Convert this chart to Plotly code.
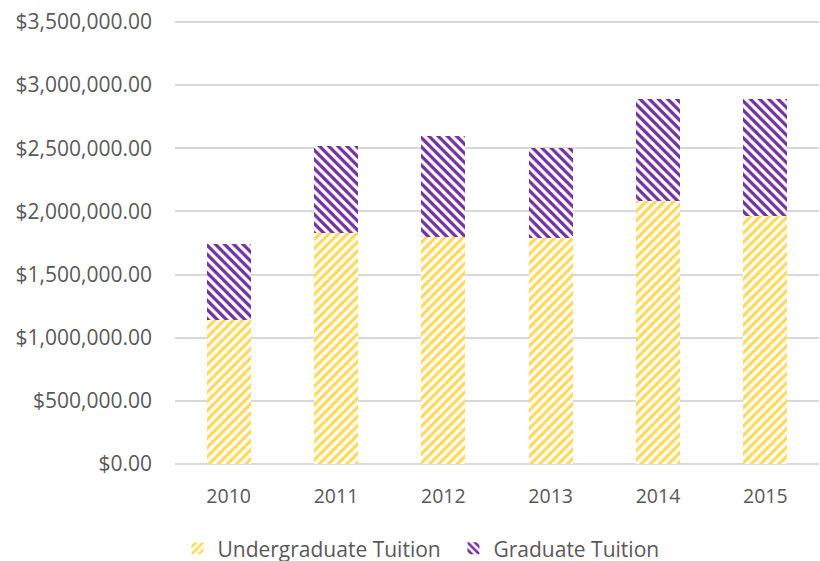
import plotly.graph_objects as go

years = ["2010", "2011", "2012", "2013", "2014", "2015"]
undergrad = [1140000, 1830000, 1800000, 1790000, 2080000, 1960000]
graduate = [600000, 690000, 800000, 710000, 810000, 930000]
y_ticks = [0, 500000, 1000000, 1500000, 2000000, 2500000, 3000000, 3500000]

fig = go.Figure()
fig.add_trace(go.Bar(
    x=years, y=undergrad, name="Undergraduate Tuition",
    marker=dict(color="#FFFFFF", line=dict(width=0),
                pattern=dict(shape="/", fgcolor="#FFD95A", bgcolor="#FFFFFF",
                             fgopacity=1, size=6.5, solidity=0.5, fillmode="replace")),
))
fig.add_trace(go.Bar(
    x=years, y=graduate, name="Graduate Tuition",
    marker=dict(color="#FFFFFF", line=dict(width=0),
                pattern=dict(shape="\\", fgcolor="#7030A0", bgcolor="#FFFFFF",
                             fgopacity=1, size=6.5, solidity=0.5, fillmode="replace")),
))

fig.update_layout(
    barmode="stack",
    bargap=0.59,
    width=820, height=561,
    margin=dict(l=175, r=1, t=20, b=97, autoexpand=False),
    paper_bgcolor="white", plot_bgcolor="white",
    font=dict(family="Open Sans, Noto Sans, sans-serif", size=20, color="#595959"),
    showlegend=True,
    legend=dict(orientation="h", xref="container", x=0.553, xanchor="center",
                yref="container", y=0.022, yanchor="middle",
                font=dict(size=21, color="#595959"), itemwidth=30,
                entrywidth=231, entrywidthmode="pixels",
                traceorder="normal"),
    xaxis=dict(showgrid=False, showline=False, ticks="", tickfont=dict(size=19.5),
               ticklabelstandoff=18),
    yaxis=dict(range=[0, 3515800], tickvals=y_ticks, tickformat="$,.2f",
               showgrid=True, gridcolor="#D9D9D9", gridwidth=2,
               zeroline=True, zerolinecolor="#D9D9D9", zerolinewidth=2,
               ticks="", ticklabelstandoff=22, tickfont=dict(size=21)),
)

fig.write_html("out.html", config={"displayModeBar": False},
               post_script="document.body.style.margin='0';document.body.style.padding='0';")
